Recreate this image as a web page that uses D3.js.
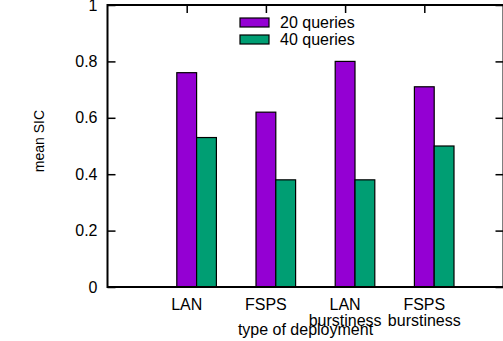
<!DOCTYPE html>
<html>
<head>
<meta charset="utf-8">
<script src="https://cdn.jsdelivr.net/npm/d3@7"></script>
<style>
  body { margin: 0; background: #fff; }
  svg { display: block; font-family: "Liberation Sans", Arial, sans-serif; }
</style>
</head>
<body>
<svg id="chart" width="503" height="341"></svg>
<script>
const categories = [["LAN"], ["FSPS"], ["LAN", "burstiness"], ["FSPS", "burstiness"]];
const seriesNames = ["20 queries", "40 queries"];
const q20 = [0.76, 0.62, 0.80, 0.71];
const q40 = [0.53, 0.38, 0.38, 0.50];
const yTicks = [0, 0.2, 0.4, 0.6, 0.8, 1];
const colors = ["#9400d3", "#009e73"];

const svg = d3.select("#chart");
const plotLeft = 107.5, plotRight = 503.5, plotTop = 5, plotBottom = 287;

const x = d3.scaleLinear().domain([-1, 4]).range([plotLeft, plotRight]);
const y = d3.scaleLinear().domain([0, 1]).range([plotBottom, plotTop]);

// bars
const series = [q20, q40];
series.forEach(function (vals, s) {
  svg.append("g")
    .selectAll("rect")
    .data(vals)
    .join("rect")
    .attr("x", (d, i) => x(i - 0.125 + s * 0.25))
    .attr("width", x(0.25) - x(0))
    .attr("y", (d) => y(d))
    .attr("height", (d) => y(0) - y(d))
    .attr("fill", colors[s])
    .attr("stroke", "#000")
    .attr("stroke-width", 1.2);
});

// left axis
const yAxis = d3.axisLeft(y).tickValues(yTicks).tickSizeInner(-8).tickSizeOuter(0)
  .tickPadding(10).tickFormat(d3.format("~g"));
const gy = svg.append("g").attr("transform", `translate(${plotLeft},0)`).call(yAxis);
gy.select(".domain").remove();
gy.selectAll("line").attr("stroke", "#000").attr("stroke-width", 1.5);
gy.selectAll("text").attr("font-size", 16).attr("fill", "#000")
  .attr("font-family", "Liberation Sans, Arial, sans-serif");

// right mirror ticks
const yAxisR = d3.axisRight(y).tickValues(yTicks).tickSizeInner(-8).tickSizeOuter(0).tickFormat("");
const gyr = svg.append("g").attr("transform", `translate(${plotRight},0)`).call(yAxisR);
gyr.select(".domain").remove();
gyr.selectAll("line").attr("stroke", "#000").attr("stroke-width", 1.5);

// top mirror ticks
const xAxisT = d3.axisTop(x).tickValues([0, 1, 2, 3]).tickSizeInner(-8).tickSizeOuter(0).tickFormat("");
const gxt = svg.append("g").attr("transform", `translate(0,${plotTop})`).call(xAxisT);
gxt.select(".domain").remove();
gxt.selectAll("line").attr("stroke", "#000").attr("stroke-width", 1.5);

// border
svg.append("path")
  .attr("d", `M${plotRight},${plotBottom}H${plotLeft}V${plotTop}H${plotRight}V${plotBottom}`)
  .attr("fill", "none")
  .attr("stroke", "#000")
  .attr("stroke-width", 2);

// x labels
const xl = svg.append("g")
  .selectAll("text")
  .data(categories)
  .join("text")
  .attr("x", (d, i) => x(i))
  .attr("y", 310)
  .attr("text-anchor", "middle")
  .attr("font-size", 16)
  .attr("fill", "#000");
xl.selectAll("tspan")
  .data((d) => d)
  .join("tspan")
  .attr("x", function () { return d3.select(this.parentNode).attr("x"); })
  .attr("dy", (d, j) => (j === 0 ? 0 : 16))
  .text((d) => d);

// axis titles
svg.append("text")
  .attr("x", (plotLeft + plotRight) / 2)
  .attr("y", 335)
  .attr("text-anchor", "middle")
  .attr("font-size", 16)
  .attr("fill", "#000")
  .text("type of deployment");

svg.append("text")
  .attr("transform", "translate(44,141) rotate(-90)")
  .attr("text-anchor", "middle")
  .attr("font-size", 14)
  .attr("fill", "#000")
  .text("mean SIC");

// legend
const legend = svg.append("g")
  .selectAll("g")
  .data(seriesNames)
  .join("g")
  .attr("transform", (d, i) => `translate(240,${18 + i * 17})`);
legend.append("rect")
  .attr("width", 29)
  .attr("height", 9)
  .attr("fill", (d, i) => colors[i])
  .attr("stroke", "#000")
  .attr("stroke-width", 1.2);
legend.append("text")
  .attr("x", 40)
  .attr("y", 10)
  .attr("font-size", 16)
  .attr("fill", "#000")
  .text((d) => d);
</script>
</body>
</html>
